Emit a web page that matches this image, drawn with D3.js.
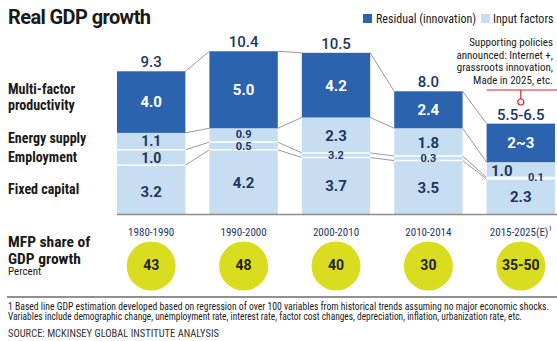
<!DOCTYPE html>
<html>
<head>
<meta charset="utf-8">
<script src="https://cdn.jsdelivr.net/npm/d3@7"></script>
<style>
  body { margin: 0; background: #fff; }
  svg { display: block; }
  text { font-family: "Liberation Sans Narrow", "Roboto Condensed", "DejaVu Sans Condensed", sans-serif; }
</style>
</head>
<body>
<div id="viz"></div>
<script>
const width = 557;
const height = 341;

// data
const periods = ['1980-1990', '1990-2000', '2000-2010', '2010-2014', '2015-2025(E)'];
const fixedCapital = [3.2, 4.2, 3.7, 3.5, 2.3];
const employment = [1.0, 0.5, 0.3, 0.3, 0.1];
const energySupply = [1.1, 0.9, 2.3, 1.8, 1.0];
const mfp = [4.0, 5.0, 4.2, 2.4, 2.5];
const fixedLabels = ['3.2', '4.2', '3.7', '3.5', '2.3'];
const employmentLabels = ['1.0', '0.5', '3.2', '0.3', '0.1'];
const energyLabels = ['1.1', '0.9', '2.3', '1.8', '1.0'];
const mfpLabels = ['4.0', '5.0', '4.2', '2.4', '2~3'];
const totalLabels = ['9.3', '10.4', '10.5', '8.0', '5.5-6.5'];
const mfpShare = ['43', '48', '40', '30', '35-50'];
const rowNames = ['Multi-factor productivity', 'Energy supply', 'Employment', 'Fixed capital'];

const darkBlue = '#2b63ae';
const lightBlue = '#c6ddf2';
const navy = '#1c3765';
const textDark = '#1a1a1a';
const yellow = '#dadd1f';

const svg = d3.select('#viz').append('svg')
  .attr('width', width)
  .attr('height', height);

const x = d3.scaleBand()
  .domain(periods)
  .range([117, 555])
  .paddingInner(0.26)
  .paddingOuter(0);

const y = d3.scaleLinear()
  .domain([0, 12])
  .range([214.5, 29.7]);

const keys = ['fixedCapital', 'employment', 'energySupply', 'mfp'];
const rows = periods.map((p, i) => ({
  period: p,
  fixedCapital: fixedCapital[i],
  employment: employment[i],
  energySupply: energySupply[i],
  mfp: mfp[i]
}));
const series = d3.stack().keys(keys)(rows);

// title
svg.append('text')
  .attr('x', 8).attr('y', 24)
  .attr('font-size', 20).attr('font-weight', 'bold')
  .attr('fill', textDark)
  .style('font-family', 'Roboto, sans-serif')
  .attr('letter-spacing', -0.6)
  .text('Real GDP growth');

// legend
const legend = svg.append('g').attr('font-size', 12).attr('fill', textDark);
legend.append('rect').attr('x', 363).attr('y', 14).attr('width', 9).attr('height', 9).attr('fill', darkBlue);
legend.append('text').attr('x', 376).attr('y', 23).attr('fill', textDark).text('Residual  (innovation)');
legend.append('rect').attr('x', 481).attr('y', 14).attr('width', 9).attr('height', 9).attr('fill', lightBlue);
legend.append('text').attr('x', 493).attr('y', 23).attr('fill', textDark).text('Input factors');

// connectors between bars
const connectors = svg.append('g').attr('stroke', '#9a9a9a').attr('stroke-width', 1);
series.forEach(s => {
  for (let i = 0; i < periods.length - 1; i++) {
    connectors.append('line')
      .attr('x1', x(periods[i]) + x.bandwidth())
      .attr('y1', y(s[i][1]))
      .attr('x2', x(periods[i + 1]))
      .attr('y2', y(s[i + 1][1]));
  }
});

// bars
const colorOf = k => k === 'mfp' ? darkBlue : lightBlue;
svg.append('g')
  .selectAll('g')
  .data(series)
  .join('g')
    .attr('fill', d => colorOf(d.key))
  .selectAll('rect')
  .data(d => d)
  .join('rect')
    .attr('x', d => x(d.data.period))
    .attr('y', d => y(d[1]))
    .attr('width', x.bandwidth())
    .attr('height', d => y(d[0]) - y(d[1]));

// white separators inside the input factor part
const seps = svg.append('g').attr('stroke', '#fff').attr('stroke-width', 1.5);
['fixedCapital', 'employment'].forEach(k => {
  const s = series.find(d => d.key === k);
  s.forEach(d => {
    seps.append('line')
      .attr('x1', x(d.data.period)).attr('x2', x(d.data.period) + x.bandwidth())
      .attr('y1', y(d[1])).attr('y2', y(d[1]));
  });
});

// baseline
svg.append('line')
  .attr('x1', x(periods[0])).attr('x2', width)
  .attr('y1', y(0)).attr('y2', y(0))
  .attr('stroke', '#8c8c8c').attr('stroke-width', 1.5);

// segment labels
const mid = d => y((d[0] + d[1]) / 2);
const cx = p => x(p) + x.bandwidth() / 2;
const labelSets = {
  fixedCapital: fixedLabels,
  employment: employmentLabels,
  energySupply: energyLabels,
  mfp: mfpLabels
};
series.forEach(s => {
  s.forEach((d, i) => {
    const small = (s.key === 'employment' && i > 0) || (s.key === 'energySupply' && i === 1);
    const tight = (i === 0 && (s.key === 'employment' || s.key === 'energySupply'));
    let dx = 0;
    let dy = 0;
    if (i === 4 && s.key === 'energySupply') { dx = -19; dy = 1; }
    if (i === 4 && s.key === 'employment') { dx = 15; dy = -1; }
    if (i === 1 && s.key === 'energySupply') dy = -1;
    if (i === 0 && s.key === 'fixedCapital') dy = 2;
    svg.append('text')
      .attr('x', cx(d.data.period) + dx)
      .attr('y', mid(d) + dy)
      .attr('dy', '0.36em')
      .attr('text-anchor', 'middle')
      .attr('font-size', small ? 11 : (tight ? 14 : 15))
      .attr('font-weight', 'bold')
      .style('font-family', 'Roboto, sans-serif')
      .attr('fill', s.key === 'mfp' ? '#fff' : navy)
      .text(labelSets[s.key][i]);
  });
});

// totals on top
const topSeries = series[series.length - 1];
topSeries.forEach((d, i) => {
  svg.append('text')
    .attr('x', cx(d.data.period))
    .attr('y', y(d[1]) - 4)
    .attr('text-anchor', 'middle')
    .attr('font-size', 15)
    .style('font-family', 'Roboto, sans-serif')
    .attr('font-weight', 500)
    .attr('fill', navy)
    .text(totalLabels[i]);
});

// row names
const rowY = [[94, 110], [143], [162], [194]];
rowNames.forEach((n, i) => {
  const t = svg.append('text')
    .attr('x', 8)
    .attr('font-size', 14)
    .attr('font-weight', 'bold')
    .attr('fill', textDark);
  if (i === 0) {
    t.append('tspan').attr('x', 8).attr('y', rowY[0][0]).text('Multi-factor');
    t.append('tspan').attr('x', 8).attr('y', rowY[0][1]).text('productivity');
  } else {
    t.attr('y', rowY[i][0]).text(n);
  }
});

// annotation
const note = ['Supporting policies', 'announced: Internet +,', 'grassroots innovation,', 'Made in 2025, etc.'];
note.forEach((l, i) => {
  svg.append('text')
    .attr('x', 553).attr('y', 46 + i * 12.6)
    .attr('text-anchor', 'end')
    .attr('font-size', 11)
    .attr('fill', textDark)
    .text(l);
});
const last = periods[periods.length - 1];
svg.append('line')
  .attr('x1', x(last)).attr('x2', width)
  .attr('y1', 90).attr('y2', 90)
  .attr('stroke', '#d9202e').attr('stroke-width', 1.2);
svg.append('line')
  .attr('x1', cx(last)).attr('x2', cx(last))
  .attr('y1', 90).attr('y2', 99)
  .attr('stroke', '#d9202e').attr('stroke-width', 1.2);
svg.append('circle')
  .attr('cx', cx(last)).attr('cy', 102).attr('r', 3)
  .attr('fill', '#fff').attr('stroke', '#d9202e').attr('stroke-width', 1.2);

// period labels
periods.forEach(p => {
  const t = svg.append('text')
    .attr('x', cx(p))
    .attr('y', 236)
    .attr('text-anchor', 'middle')
    .attr('font-size', 11)
    .attr('fill', navy)
    .text(p);
  if (p === last) {
    t.append('tspan').attr('dy', -5).attr('font-size', 7).text('1');
  }
});

// MFP share
svg.append('text')
  .attr('x', 8).attr('y', 247)
  .attr('font-size', 15.5).attr('font-weight', 'bold').attr('fill', textDark)
  .text('MFP share of');
svg.append('text')
  .attr('x', 8).attr('y', 263.5)
  .attr('font-size', 15.5).attr('font-weight', 'bold').attr('fill', textDark)
  .text('GDP growth');
svg.append('text')
  .attr('x', 8).attr('y', 275)
  .attr('font-size', 11).attr('fill', textDark)
  .text('Percent');

svg.append('g')
  .selectAll('circle')
  .data(periods)
  .join('circle')
    .attr('cx', d => cx(d))
    .attr('cy', 266)
    .attr('r', 24.5)
    .attr('fill', yellow);

svg.append('g')
  .selectAll('text')
  .data(periods)
  .join('text')
    .attr('x', d => cx(d))
    .attr('y', 265)
    .attr('dy', '0.36em')
    .attr('text-anchor', 'middle')
    .attr('font-size', 14)
    .attr('font-weight', 'bold')
    .style('font-family', 'Roboto, sans-serif')
    .attr('fill', '#222')
    .text((d, i) => mfpShare[i]);

// footer
svg.append('line')
  .attr('x1', 7).attr('x2', width)
  .attr('y1', 297).attr('y2', 297)
  .attr('stroke', '#222').attr('stroke-width', 1.2);

const foot = [
  '1 Based line GDP estimation developed based on regression of over 100 variables from historical trends assuming no major economic shocks.',
  'Variables include demographic change, unemployment rate, interest rate, factor cost changes, depreciation, inflation, urbanization rate, etc.'
];
const footLen = [541, 514];
foot.forEach((l, i) => {
  svg.append('text')
    .attr('x', 8).attr('y', 310 + i * 10)
    .attr('font-size', 10)
    .attr('fill', textDark)
    .attr('textLength', footLen[i])
    .attr('lengthAdjust', 'spacingAndGlyphs')
    .text(l);
});
svg.append('text')
  .attr('x', 8).attr('y', 337)
  .attr('font-size', 10)
  .attr('fill', '#333')
  .attr('textLength', 211)
  .attr('lengthAdjust', 'spacingAndGlyphs')
  .text('SOURCE: MCKINSEY GLOBAL INSTITUTE ANALYSIS');
</script>
</body>
</html>
